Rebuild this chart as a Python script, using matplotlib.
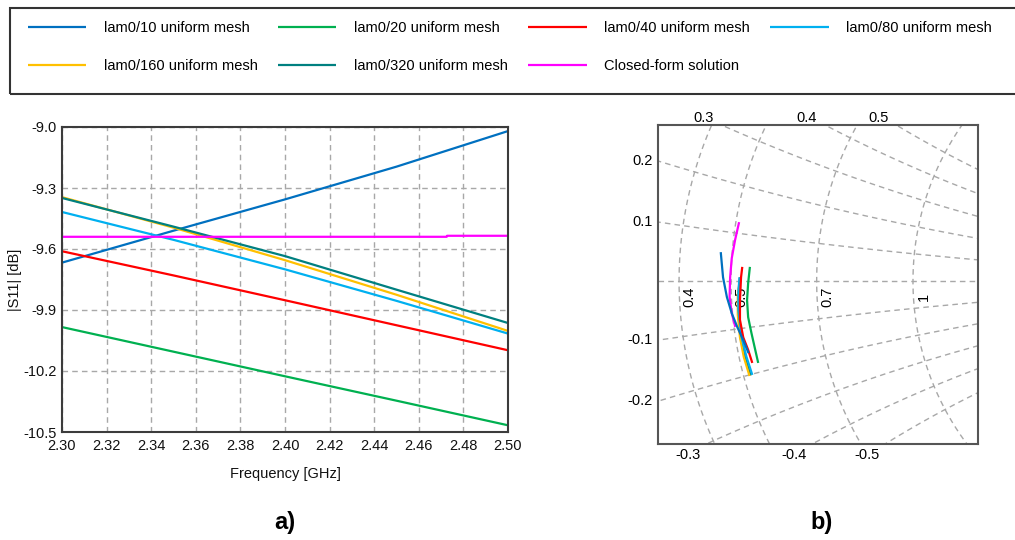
import numpy as np
import matplotlib
matplotlib.use('Agg')
import matplotlib.pyplot as plt
from matplotlib.patches import Rectangle

plt.rcParams['font.family'] = ['Liberation Sans', 'DejaVu Sans']
plt.rcParams['axes.unicode_minus'] = False

# ---------------- data ----------------
labels = ['lam0/10 uniform mesh', 'lam0/20 uniform mesh', 'lam0/40 uniform mesh',
          'lam0/80 uniform mesh', 'lam0/160 uniform mesh', 'lam0/320 uniform mesh',
          'Closed-form solution']
colors = ['#0070C0', '#00B050', '#FF0000', '#00B0F0', '#FFC000', '#008080', '#FF00FF']

freq = [2.30, 2.35, 2.40, 2.45, 2.50]
s11_lam10 = [-9.667, -9.51, -9.356, -9.195, -9.02]
s11_lam20 = [-9.984, -10.105, -10.226, -10.346, -10.467]
s11_lam40 = [-9.611, -9.73, -9.852, -9.975, -10.098]
s11_lam80 = [-9.418, -9.555, -9.70, -9.855, -10.016]
s11_lam160 = [-9.345, -9.495, -9.655, -9.825, -10.003]
s11_lam320 = [-9.349, -9.49, -9.635, -9.80, -9.964]
freq_closed = [2.30, 2.4725, 2.4727, 2.50]
s11_closed = [-9.54, -9.54, -9.535, -9.535]

xticks = [2.30, 2.32, 2.34, 2.36, 2.38, 2.40, 2.42, 2.44, 2.46, 2.48, 2.50]
yticks = [-10.5, -10.2, -9.9, -9.6, -9.3, -9.0]

# Smith chart traces (reflection coefficient, real / imag)
gr_lam10 = [-0.352, -0.348, -0.341, -0.332, -0.322, -0.311, -0.302]
gi_lam10 = [0.051, 0.007, -0.029, -0.059, -0.084, -0.108, -0.130]
gr_lam20 = [-0.299, -0.302, -0.304, -0.302, -0.296, -0.289, -0.284]
gi_lam20 = [0.024, -0.004, -0.035, -0.066, -0.095, -0.126, -0.148]
gr_lam40 = [-0.313, -0.315, -0.317, -0.317, -0.311, -0.302, -0.295]
gi_lam40 = [0.024, 0.007, -0.035, -0.071, -0.103, -0.126, -0.148]
gr_lam80 = [-0.318, -0.320, -0.320, -0.314, -0.305, -0.295]
gi_lam80 = [0.005, -0.022, -0.053, -0.103, -0.139, -0.170]
gr_lam160 = [-0.317, -0.321, -0.321, -0.317, -0.310, -0.300]
gi_lam160 = [0.005, -0.026, -0.062, -0.103, -0.139, -0.172]
gr_lam320 = [-0.317, -0.320, -0.320, -0.316, -0.308, -0.298]
gi_lam320 = [0.005, -0.024, -0.058, -0.103, -0.139, -0.171]
gr_closed = [-0.319, -0.326, -0.332, -0.335, -0.336, -0.332, -0.326]
gi_closed = [0.106, 0.075, 0.042, 0.007, -0.029, -0.059, -0.082]

r_values = [0.2, 0.3, 0.4, 0.5, 0.7, 1, 2, 3, 5]
x_values = [0.1, 0.2, 0.3, 0.4, 0.5, 0.7, 1, 2, 3, 5]
smith_xlim = (-0.467, 0.119)
smith_ylim = (-0.2985, 0.286)

# ---------------- figure ----------------
W, H = 1015, 540
fig = plt.figure(figsize=(W / 100, H / 100), dpi=100)

def fx(px):
    return px / W

def fy(py):
    return 1 - py / H

grid_kw = dict(color='#a8a8a8', lw=1.0, ls=(0, (4, 3)))
spine_col = '#3c3c3c'

# ---- left: |S11| ----
ax1 = fig.add_axes([fx(62), fy(432), (508 - 62) / W, (432 - 127) / H])
series = [(freq, s11_lam10), (freq, s11_lam20), (freq, s11_lam40), (freq, s11_lam80),
          (freq, s11_lam160), (freq, s11_lam320), (freq_closed, s11_closed)]
handles = []
for (f, s), c, lab in zip(series, colors, labels):
    h, = ax1.plot(f, s, color=c, lw=1.6, label=lab, solid_capstyle='butt')
    handles.append(h)
ax1.set_xlim(2.30, 2.50)
ax1.set_ylim(-10.5, -9.0)
ax1.set_xticks(xticks)
ax1.set_xticklabels(['%.2f' % v for v in xticks])
ax1.set_yticks(yticks)
ax1.set_yticklabels(['%.1f' % v for v in yticks])
ax1.tick_params(length=0, labelsize=10.5, colors='#111111')
ax1.tick_params(axis='x', pad=5)
ax1.tick_params(axis='y', pad=4)
ax1.grid(True, **grid_kw)
for sp in ax1.spines.values():
    sp.set_color(spine_col)
    sp.set_linewidth(1.5)
ax1.set_xlabel('Frequency [GHz]', fontsize=10.5, labelpad=10, color='#111111')
ax1.set_ylabel('|S11| [dB]', fontsize=10.5, labelpad=1, color='#111111')

# ---- right: Smith chart zoom ----
ax2 = fig.add_axes([fx(658), fy(444), (978 - 658) / W, (444 - 125) / H])
ax2.set_xlim(*smith_xlim)
ax2.set_ylim(*smith_ylim)
ax2.set_aspect('equal', adjustable='box')
ax2.set_xticks([])
ax2.set_yticks([])
for sp in ax2.spines.values():
    sp.set_color('#555555')
    sp.set_linewidth(1.5)

t = np.linspace(0, 2 * np.pi, 1500)
for r in r_values:
    c = r / (1 + r)
    rad = 1 / (1 + r)
    ax2.plot(c + rad * np.cos(t), rad * np.sin(t), zorder=1, **grid_kw)
for xv in x_values:
    for sgn in (1, -1):
        cy = sgn / xv
        rad = 1 / xv
        px_ = 1 + rad * np.cos(t)
        py_ = cy + rad * np.sin(t)
        inside = px_ ** 2 + py_ ** 2 <= 1.0001
        px_ = np.where(inside, px_, np.nan)
        py_ = np.where(inside, py_, np.nan)
        ax2.plot(px_, py_, zorder=1, **grid_kw)
ax2.axhline(0, zorder=1, **grid_kw)

# labels for resistance circles on the real axis
for r in r_values:
    g = (r - 1) / (r + 1)
    if smith_xlim[0] < g < smith_xlim[1]:
        ax2.annotate('%g' % r, (g, 0), xytext=(7.5, -11.5), textcoords='offset points',
                     rotation=90, ha='center', va='center', fontsize=10.5)
# labels for reactance arcs
for xv in x_values:
    for sgn in (1, -1):
        cy = sgn / xv
        rad = 1 / xv
        gl = smith_xlim[0]
        d = rad ** 2 - (gl - 1) ** 2
        if d > 0:
            gi = cy - sgn * np.sqrt(d)
            if smith_ylim[0] < gi < smith_ylim[1]:
                ax2.annotate('%g' % (sgn * xv), (gl, gi), xytext=(-4, 0),
                             textcoords='offset points', ha='right', va='center',
                             fontsize=10.5)
                continue
        gy = smith_ylim[1] if sgn > 0 else smith_ylim[0]
        d = rad ** 2 - (gy - cy) ** 2
        if d > 0:
            gr = 1 - np.sqrt(d)
            if smith_xlim[0] < gr < smith_xlim[1]:
                ax2.annotate('%g' % (sgn * xv), (gr, gy),
                             xytext=(-13, 5 if sgn > 0 else -8),
                             textcoords='offset points', ha='center',
                             va='center', fontsize=10.5)

smith = [(gr_lam320, gi_lam320, 5), (gr_lam160, gi_lam160, 4), (gr_lam80, gi_lam80, 3),
         (gr_lam20, gi_lam20, 1), (gr_lam40, gi_lam40, 2), (gr_closed, gi_closed, 6),
         (gr_lam10, gi_lam10, 0)]
for gr, gi, k in smith:
    ax2.plot(gr, gi, color=colors[k], lw=1.6, zorder=3)

# ---- legend ----
fig.add_artist(Rectangle((fx(10), fy(94)), 1.2, (94 - 8) / H, transform=fig.transFigure,
                         fill=False, ec='#333333', lw=1.5))
order = [0, 4, 1, 5, 2, 6, 3]
fig.legend([handles[i] for i in order], [labels[i] for i in order],
           loc='upper left', bbox_to_anchor=(fx(28), fy(21)), ncol=4, frameon=False,
           fontsize=10.5, handlelength=4.0, handletextpad=1.2, columnspacing=1.4,
           labelspacing=1.65, borderaxespad=0, borderpad=0)

fig.text(fx(285), fy(522), 'a)', fontsize=17, fontweight='bold', ha='center', va='center')
fig.text(fx(822), fy(522), 'b)', fontsize=17, fontweight='bold', ha='center', va='center')

fig.savefig('out.png', dpi=100)
